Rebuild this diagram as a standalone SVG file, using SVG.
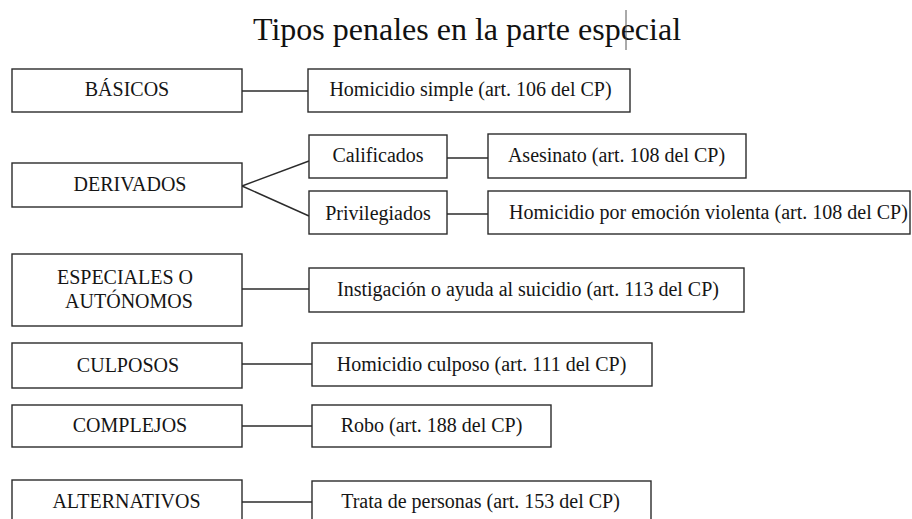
<svg xmlns="http://www.w3.org/2000/svg" width="912" height="519" viewBox="0 0 912 519">
  <style>
    .box { fill: #ffffff; stroke: #2b2b2b; stroke-width: 1.4; }
    .lbl { font-size: 20px; fill: #151515; text-anchor: middle; }
    .title { font-size: 32px; fill: #111111; }
    .conn line { stroke: #2b2b2b; stroke-width: 1.4; }
  </style>
  <rect width="912" height="519" fill="#ffffff"/>
  <g font-family="Liberation Serif, DejaVu Serif, serif">
  <text class="title" x="253" y="40">Tipos penales en la parte especial</text>
  <line x1="626" y1="10" x2="626" y2="50" stroke="#555555" stroke-width="1"/>

  <g id="connectors" class="conn">
    <line x1="242" y1="91" x2="308" y2="91"/>
    <line x1="242" y1="186" x2="309" y2="161"/>
    <line x1="242" y1="186" x2="309" y2="216"/>
    <line x1="447" y1="158" x2="488" y2="158"/>
    <line x1="447" y1="214" x2="488" y2="214"/>
    <line x1="242" y1="289" x2="309" y2="289"/>
    <line x1="242" y1="364" x2="312" y2="364"/>
    <line x1="242" y1="426" x2="312" y2="426"/>
    <line x1="242" y1="502" x2="312" y2="502"/>
  </g>

  <g id="basicos"><rect class="box" x="12" y="69" width="230" height="43"/><text class="lbl" x="127" y="96">BÁSICOS</text></g>
  <g id="homicidio-simple"><rect class="box" x="308" y="69" width="322" height="43"/><text class="lbl" x="470.5" y="96">Homicidio simple (art. 106 del CP)</text></g>

  <g id="derivados"><rect class="box" x="12" y="163" width="230" height="44"/><text class="lbl" x="130" y="191">DERIVADOS</text></g>
  <g id="calificados"><rect class="box" x="309" y="135" width="138" height="43"/><text class="lbl" x="378" y="162">Calificados</text></g>
  <g id="privilegiados"><rect class="box" x="309" y="191" width="138" height="43"/><text class="lbl" x="378" y="220">Privilegiados</text></g>
  <g id="asesinato"><rect class="box" x="488" y="134" width="258" height="44"/><text class="lbl" x="616.5" y="162">Asesinato (art. 108 del CP)</text></g>
  <g id="emocion-violenta"><rect class="box" x="488" y="191" width="422" height="43"/><text class="lbl" x="509" y="219" style="text-anchor:start">Homicidio por emoción violenta (art. 108 del CP)</text></g>

  <g id="especiales"><rect class="box" x="12" y="254" width="230" height="72"/><text class="lbl" x="125" y="284">ESPECIALES O</text><text class="lbl" x="129" y="308">AUTÓNOMOS</text></g>
  <g id="instigacion"><rect class="box" x="309" y="268" width="435" height="44"/><text class="lbl" x="528" y="296">Instigación o ayuda al suicidio (art. 113 del CP)</text></g>

  <g id="culposos"><rect class="box" x="12" y="343" width="230" height="45"/><text class="lbl" x="128" y="372">CULPOSOS</text></g>
  <g id="homicidio-culposo"><rect class="box" x="312" y="343" width="340" height="43"/><text class="lbl" x="481.5" y="371">Homicidio culposo (art. 111 del CP)</text></g>

  <g id="complejos"><rect class="box" x="12" y="405" width="230" height="42"/><text class="lbl" x="130" y="432">COMPLEJOS</text></g>
  <g id="robo"><rect class="box" x="312" y="405" width="239" height="42"/><text class="lbl" x="431.5" y="432">Robo (art. 188 del CP)</text></g>

  <g id="alternativos"><rect class="box" x="12" y="480" width="230" height="50"/><text class="lbl" x="126.5" y="508">ALTERNATIVOS</text></g>
  <g id="trata"><rect class="box" x="312" y="481" width="339" height="50"/><text class="lbl" x="480.5" y="508">Trata de personas (art. 153 del CP)</text></g>
  </g>
</svg>
